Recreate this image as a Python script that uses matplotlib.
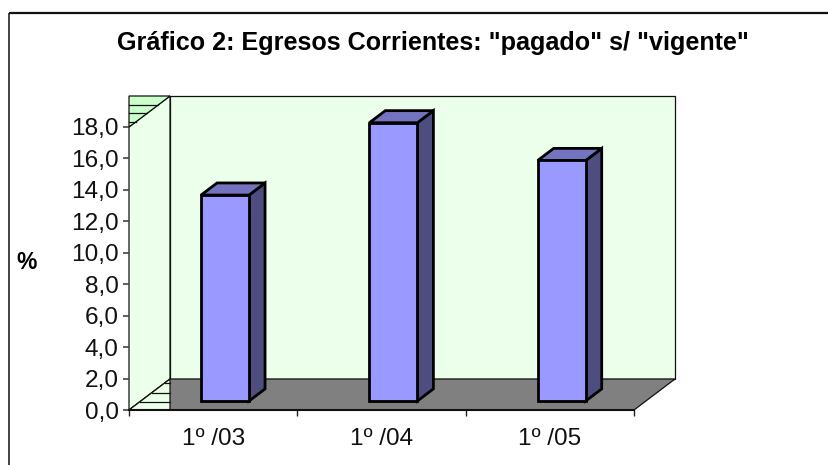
import matplotlib
matplotlib.use('Agg')
import matplotlib.pyplot as plt
from matplotlib.patches import Polygon, Rectangle

plt.rcParams['font.family'] = ['Liberation Sans', 'DejaVu Sans']

categories = ['1º /03', '1º /04', '1º /05']
values = [13.1, 17.7, 15.3]
y_ticks = [0, 2, 4, 6, 8, 10, 12, 14, 16, 18]
y_tick_labels = ['0,0', '2,0', '4,0', '6,0', '8,0', '10,0', '12,0', '14,0', '16,0', '18,0']
title = 'Gráfico 2: Egresos Corrientes: "pagado" s/ "vigente"'
y_label = '%'

W, H = 829, 465
fig = plt.figure(figsize=(W / 100, H / 100), dpi=100)
fig.patch.set_facecolor('white')

frame = fig.add_axes([0, 0, 1, 1], zorder=0)
frame.set_xlim(0, W); frame.set_ylim(H, 0); frame.axis('off')
frame.plot([9.5, 9.5], [465, 13], color='#111111', lw=1.1, solid_capstyle='butt')
frame.plot([9, 829], [13, 13], color='#111111', lw=1.6, solid_capstyle='butt')

L, R, T, B = 129, 634, 127, 410
ax = fig.add_axes([L / W, 1 - B / H, (R - L) / W, (B - T) / H], zorder=1)
ax.set_xlim(0, len(categories))
ax.set_ylim(0, 18)
ax.patch.set_visible(False)
for s in ['top', 'right', 'left']:
    ax.spines[s].set_visible(False)
ax.spines['bottom'].set_linewidth(1.5)
ax.spines['bottom'].set_color('#111111')
ax.spines['bottom'].set_zorder(6)

# oblique depth of the box, in data units
DX = 41 / (R - L) * len(categories)
DY = 31 / (B - T) * 18
xmax = len(categories)
wall = '#EBFFEB'
edge = '#111111'
kw = dict(clip_on=False, edgecolor=edge, linewidth=0.9)

ax.add_patch(Polygon([(DX, DY), (xmax + DX, DY), (xmax + DX, 18 + DY), (DX, 18 + DY)], facecolor=wall, zorder=1, **kw))
ax.add_patch(Polygon([(0, 0), (DX, DY), (DX, 18 + DY), (0, 18)], facecolor=wall, zorder=1, **kw))
ax.add_patch(Polygon([(0, 0), (xmax, 0), (xmax + DX, DY), (DX, DY)], facecolor='#808080', zorder=1, **kw))
ax.add_patch(Polygon([(0, 18), (DX, 18 + DY), (0, 18 + DY)], facecolor='#CCFFCC', zorder=2, **kw))
ax.add_patch(Polygon([(0, 0), (DX, DY), (DX, 0)], facecolor=wall, zorder=2, **kw))
for f in [0.16, 0.45, 0.71]:
    ax.plot([0, DX * f], [18 + DY * f, 18 + DY * f], color=edge, lw=0.9, clip_on=False, zorder=3)
for f in [0.26, 0.55, 0.87]:
    ax.plot([DX * f, DX], [DY * f, DY * f], color=edge, lw=0.9, clip_on=False, zorder=3)

# bars
BW = 48 / (R - L) * len(categories)
F0 = 0.29
F1 = 0.68
bkw = dict(clip_on=False, edgecolor='black', linewidth=2.0, joinstyle='miter', zorder=5)
for i, v in enumerate(values):
    x0 = i + 0.5 + F0 * DX - BW / 2
    x1 = x0 + BW
    y0 = F0 * DY
    y1 = y0 + v
    ddx = (F1 - F0) * DX
    ddy = (F1 - F0) * DY
    ax.add_patch(Polygon([(x1, y0), (x1 + ddx, y0 + ddy), (x1 + ddx, y1 + ddy), (x1, y1)], facecolor='#4D4D80', **bkw))
    ax.add_patch(Polygon([(x0, y1), (x1, y1), (x1 + ddx, y1 + ddy), (x0 + ddx, y1 + ddy)], facecolor='#7373BF', **bkw))
    ax.add_patch(Rectangle((x0, y0), BW, v, facecolor='#9999FF', **bkw))

ax.set_yticks(y_ticks)
ax.set_yticklabels(y_tick_labels, fontsize=17.6, color='#111111')
ax.tick_params(axis='y', length=4.3, width=1.2, color='#444444', pad=3.2)
ax.set_xticks(range(len(categories) + 1))
ax.set_xticklabels([''] * (len(categories) + 1))
ax.tick_params(axis='x', length=4.0, width=1.0, color='#222222')
for i, c in enumerate(categories):
    ax.annotate(c, (i + 0.5, 0), xytext=(0, -35), textcoords='offset pixels', ha='center', va='baseline',
                fontsize=17.6, color='#111111', annotation_clip=False)

frame.text(433, 43, title, ha='center', va='center', fontsize=18.1, fontweight='bold', color='black')
frame.text(27, 262, y_label, ha='center', va='center', fontsize=16.5, fontweight='bold', color='black')

fig.savefig('out.png', dpi=100)
